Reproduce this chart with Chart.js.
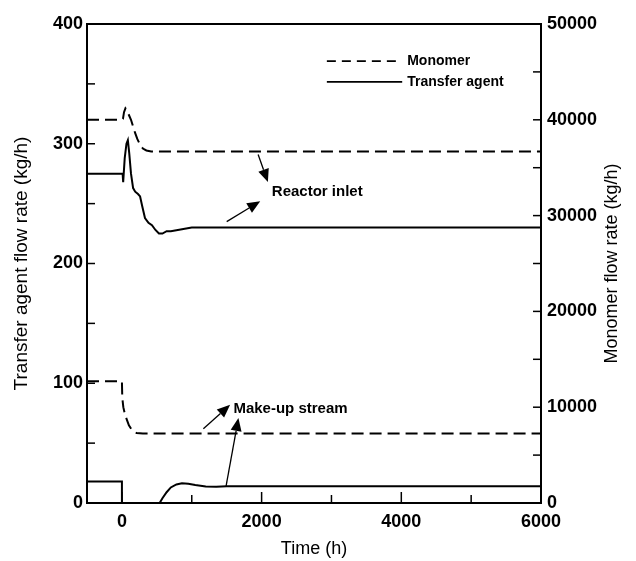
<!DOCTYPE html>
<html>
<head>
<meta charset="utf-8">
<script src="https://cdn.jsdelivr.net/npm/chart.js@4.4.1/dist/chart.umd.min.js"></script>
<style>
body { margin: 0; background: #fff; }
</style>
</head>
<body>
<canvas id="grafico" width="636" height="561"></canvas>
<script>
// tick labels
var xTicks = [0, 2000, 4000, 6000]
var leftTicks = [0, 100, 200, 300, 400]
var rightTicks = [0, 10000, 20000, 30000, 40000, 50000]

// reactor inlet, monomer (kg/h, right axis)
var tInletMon = [-500, 0, 15, 30, 50, 70, 100, 130, 160, 190, 220, 260, 300, 350, 420, 500, 6000]
var inletMon = [40000, 40000, 40100, 40800, 41200, 41000, 40500, 40000, 39300, 38600, 38000, 37400, 37000, 36800, 36700, 36700, 36700]

// reactor inlet, transfer agent (kg/h, left axis)
var tInletTA = [-500, 0, 10, 18, 40, 65, 85, 105, 130, 160, 190, 230, 260, 290, 330, 380, 430, 480, 530, 580, 640, 700, 800, 900, 1000, 1200, 1500, 6000]
var inletTA = [275, 275, 275, 268, 288, 300, 303, 292, 275, 263, 260, 258, 256, 248, 238, 234, 232, 228, 225, 225, 227, 227, 228, 229, 230, 230, 230, 230]

// make-up stream, monomer (right axis)
var tMakeupMon = [-500, 0, 5, 20, 45, 70, 100, 140, 210, 300, 6000]
var makeupMon = [12700, 12700, 11000, 10000, 9200, 8700, 8100, 7650, 7300, 7250, 7250]

// make-up stream, transfer agent (left axis)
var tMakeupTA = [-500, 0, 0, 540, 580, 640, 700, 780, 860, 950, 1050, 1200, 1350, 1500, 6000]
var makeupTA = [18, 18, 0, 0, 4, 9, 13, 15.5, 16.5, 16, 15, 13.8, 13.5, 14, 14]

// annotations in data units (time, left axis value)
var labels = [
    { text: 'Reactor inlet', t: 2146, v: 260 },
    { text: 'Make-up stream', t: 1596, v: 79 }
]
var arrows = [
    [1950, 291, 2090, 268],
    [1500, 235, 1980, 252],
    [1166, 62, 1549, 82],
    [1491, 14, 1668, 71]
]
var legendPos = { t0: 2934, t1: 3984, v1: 369, v2: 351.6 }

var fonte = "'Liberation Sans', Arial, sans-serif"

function pontos(ts, vs) {
    var out = []
    for (var i = 0; i < ts.length; i++) out.push({ x: ts[i], y: vs[i] })
    return out
}

function seta(ctx, x0, y0, x1, y1) {
    var ang = Math.atan2(y1 - y0, x1 - x0)
    var L = 13, W = 5.5
    ctx.beginPath()
    ctx.moveTo(x0, y0)
    ctx.lineTo(x1 - L * Math.cos(ang), y1 - L * Math.sin(ang))
    ctx.stroke()
    ctx.beginPath()
    ctx.moveTo(x1, y1)
    ctx.lineTo(x1 - L * Math.cos(ang) + W * Math.sin(ang), y1 - L * Math.sin(ang) - W * Math.cos(ang))
    ctx.lineTo(x1 - L * Math.cos(ang) - W * Math.sin(ang), y1 - L * Math.sin(ang) + W * Math.cos(ang))
    ctx.closePath()
    ctx.fill()
}

var extras = {
    id: 'extras',
    afterDraw: function (chart) {
        var ctx = chart.ctx
        var a = chart.chartArea
        var sx = chart.scales.x, sy = chart.scales.y, sy1 = chart.scales.y1
        ctx.save()
        ctx.strokeStyle = '#000'
        ctx.fillStyle = '#000'
        ctx.lineWidth = 2

        // frame top
        ctx.beginPath()
        ctx.moveTo(a.left - 1, a.top)
        ctx.lineTo(a.right + 1, a.top)
        ctx.stroke()

        // inward tick marks
        ctx.lineWidth = 1.5
        for (var v = 50; v < 400; v += 50) {
            var y = sy.getPixelForValue(v)
            ctx.beginPath(); ctx.moveTo(a.left, y); ctx.lineTo(a.left + 8, y); ctx.stroke()
        }
        for (var w = 5000; w < 50000; w += 5000) {
            var y1 = sy1.getPixelForValue(w)
            ctx.beginPath(); ctx.moveTo(a.right, y1); ctx.lineTo(a.right - 8, y1); ctx.stroke()
        }
        for (var t = 0; t < 6000; t += 1000) {
            var x = sx.getPixelForValue(t)
            var len = (t % 2000 == 0) ? 11 : 8
            ctx.beginPath(); ctx.moveTo(x, a.bottom); ctx.lineTo(x, a.bottom - len); ctx.stroke()
        }

        // y titles
        ctx.textAlign = 'center'
        ctx.textBaseline = 'middle'
        var cy = (a.top + a.bottom) / 2
        ctx.save()
        ctx.font = '19px ' + fonte
        ctx.translate(22, cy)
        ctx.rotate(-Math.PI / 2)
        ctx.fillText('Transfer agent flow rate (kg/h)', 0, 0)
        ctx.restore()
        ctx.save()
        ctx.font = '18px ' + fonte
        ctx.translate(612, cy)
        ctx.rotate(-Math.PI / 2)
        ctx.fillText('Monomer flow rate (kg/h)', 0, 0)
        ctx.restore()

        // legend
        var lx0 = sx.getPixelForValue(legendPos.t0), lx1 = sx.getPixelForValue(legendPos.t1)
        var ly1 = sy.getPixelForValue(legendPos.v1), ly2 = sy.getPixelForValue(legendPos.v2)
        ctx.lineWidth = 1.8
        ctx.setLineDash([9, 6])
        ctx.beginPath(); ctx.moveTo(lx0, ly1); ctx.lineTo(lx1, ly1); ctx.stroke()
        ctx.setLineDash([])
        ctx.beginPath(); ctx.moveTo(lx0, ly2); ctx.lineTo(lx1 + 2, ly2); ctx.stroke()
        ctx.font = 'bold 14px ' + fonte
        ctx.textAlign = 'left'
        ctx.fillText(chart.data.datasets[0].label, lx1 + 7, ly1)
        ctx.fillText(chart.data.datasets[1].label, lx1 + 7, ly2)

        // annotations
        ctx.font = 'bold 15px ' + fonte
        labels.forEach(function (l) {
            ctx.fillText(l.text, sx.getPixelForValue(l.t), sy.getPixelForValue(l.v))
        })
        ctx.lineWidth = 1.3
        arrows.forEach(function (r) {
            seta(ctx, sx.getPixelForValue(r[0]), sy.getPixelForValue(r[1]),
                sx.getPixelForValue(r[2]), sy.getPixelForValue(r[3]))
        })
        ctx.restore()
    }
}

var tickFont = { family: fonte, size: 18, weight: 'bold' }
function semVirgula(v) { return String(v) }

new Chart(document.getElementById('grafico'), {
    type: 'line',
    data: {
        datasets: [{
            label: 'Monomer',
            data: pontos(tInletMon, inletMon),
            yAxisID: 'y1',
            borderColor: '#000',
            borderWidth: 2,
            borderDash: [12, 6],
            pointRadius: 0,
            tension: 0
        }, {
            label: 'Transfer agent',
            data: pontos(tInletTA, inletTA),
            yAxisID: 'y',
            borderColor: '#000',
            borderWidth: 2,
            pointRadius: 0,
            tension: 0
        }, {
            label: 'Monomer make-up',
            data: pontos(tMakeupMon, makeupMon),
            yAxisID: 'y1',
            borderColor: '#000',
            borderWidth: 2,
            borderDash: [12, 6],
            pointRadius: 0,
            tension: 0
        }, {
            label: 'Transfer agent make-up',
            data: pontos(tMakeupTA, makeupTA),
            yAxisID: 'y',
            borderColor: '#000',
            borderWidth: 2,
            pointRadius: 0,
            tension: 0
        }]
    },
    options: {
        responsive: false,
        animation: false,
        devicePixelRatio: 1,
        layout: { padding: { top: 24, left: 0, right: 0, bottom: 0 } },
        plugins: { legend: { display: false }, tooltip: { enabled: false } },
        scales: {
            x: {
                type: 'linear',
                min: -500,
                max: 6000,
                grid: { display: false, drawTicks: false },
                border: { display: true, color: '#000', width: 2 },
                ticks: { font: tickFont, color: '#000', padding: 8, maxRotation: 0, callback: semVirgula },
                afterBuildTicks: function (s) { s.ticks = xTicks.map(function (v) { return { value: v } }) },
                afterFit: function (s) { s.height = 58 },
                title: { display: true, text: 'Time (h)', font: { family: fonte, size: 18 }, color: '#000', padding: { top: 4, bottom: 1 } }
            },
            y: {
                position: 'left',
                min: 0,
                max: 400,
                grid: { display: false, drawTicks: false },
                border: { display: true, color: '#000', width: 2 },
                ticks: { font: tickFont, color: '#000', padding: 4, callback: semVirgula },
                afterBuildTicks: function (s) { s.ticks = leftTicks.map(function (v) { return { value: v } }) },
                afterFit: function (s) { s.width = 87 }
            },
            y1: {
                position: 'right',
                min: 0,
                max: 50000,
                grid: { display: false, drawTicks: false },
                border: { display: true, color: '#000', width: 2 },
                ticks: { font: tickFont, color: '#000', padding: 6, callback: semVirgula },
                afterBuildTicks: function (s) { s.ticks = rightTicks.map(function (v) { return { value: v } }) },
                afterFit: function (s) { s.width = 95 }
            }
        }
    },
    plugins: [extras]
})
</script>
</body>
</html>
